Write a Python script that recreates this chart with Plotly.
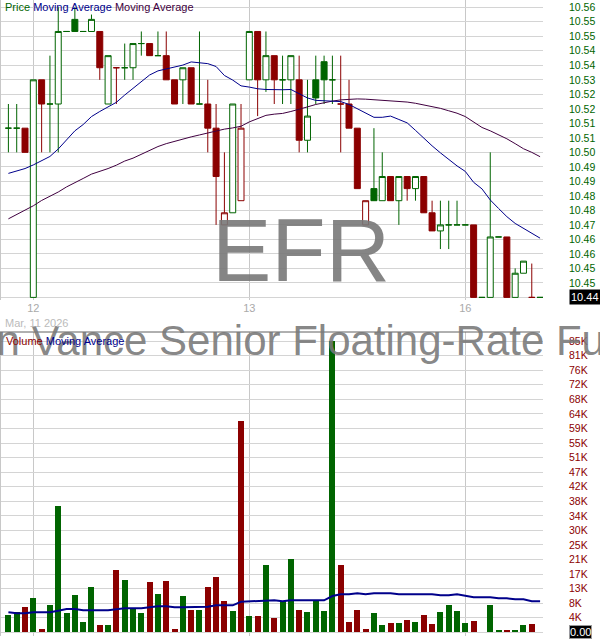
import plotly.graph_objects as go

# ---------------- data ----------------
bar_index = list(range(65))          # 15-minute bars, Mar 11 (last 3) .. Mar 16
day_tick_index = [3, 29, 55]
day_tick_labels = ["12", "13", "16"]

opens = [10.51, 10.51, 10.51, 10.44, 10.53, 10.52, 10.52, 10.55, 10.555, 10.55,
         10.55, 10.55, 10.52, 10.535, 10.535, 10.535, 10.545, 10.545, 10.54, 10.54,
         10.53, 10.53, 10.535, 10.52, 10.52, 10.51, 10.47, 10.475, 10.48, 10.53,
         10.55, 10.53, 10.54, 10.53, 10.53, 10.53, 10.505, 10.53, 10.5375, 10.53,
         10.52, 10.52, 10.51, 10.47, 10.485, 10.48, 10.49, 10.48, 10.49, 10.485,
         10.49, 10.475, 10.4675, 10.47, 10.47, 10.47, 10.47, 10.44, 10.44, 10.465,
         10.465, 10.44, 10.45, 10.44, 10.44]
highs = [10.52, 10.52, 10.51, 10.53, 10.53, 10.54, 10.56, 10.55, 10.56, 10.55,
         10.557, 10.55, 10.54, 10.535, 10.545, 10.545, 10.55, 10.545, 10.55, 10.55,
         10.53, 10.535, 10.535, 10.55, 10.53, 10.52, 10.50, 10.52, 10.52, 10.55,
         10.55, 10.55, 10.54, 10.54, 10.54, 10.54, 10.53, 10.54, 10.54, 10.54,
         10.54, 10.53, 10.51, 10.48, 10.51, 10.50, 10.49, 10.49, 10.49, 10.49,
         10.49, 10.48, 10.48, 10.48, 10.48, 10.47, 10.47, 10.44, 10.50, 10.465,
         10.465, 10.452, 10.455, 10.454, 10.44]
lows = [10.50, 10.50, 10.50, 10.44, 10.50, 10.50, 10.50, 10.55, 10.55, 10.55,
        10.55, 10.53, 10.52, 10.52, 10.53, 10.53, 10.54, 10.54, 10.54, 10.53,
        10.52, 10.52, 10.52, 10.52, 10.50, 10.47, 10.47, 10.475, 10.48, 10.53,
        10.515, 10.525, 10.52, 10.52, 10.52, 10.50, 10.50, 10.52, 10.52, 10.52,
        10.50, 10.51, 10.485, 10.47, 10.48, 10.48, 10.48, 10.47, 10.48, 10.48,
        10.475, 10.4675, 10.46, 10.46, 10.47, 10.47, 10.44, 10.44, 10.44, 10.465,
        10.44, 10.44, 10.45, 10.44, 10.44]
closes = [10.51, 10.51, 10.50, 10.53, 10.52, 10.52, 10.55, 10.55, 10.55, 10.55,
          10.555, 10.535, 10.54, 10.535, 10.535, 10.545, 10.545, 10.54, 10.54, 10.53,
          10.52, 10.535, 10.52, 10.52, 10.51, 10.49, 10.475, 10.52, 10.51, 10.55,
          10.53, 10.54, 10.53, 10.53, 10.54, 10.505, 10.515, 10.5225, 10.53, 10.53,
          10.52, 10.51, 10.485, 10.48, 10.48, 10.49, 10.48, 10.49, 10.485, 10.49,
          10.475, 10.4675, 10.47, 10.47, 10.47, 10.47, 10.44, 10.44, 10.465, 10.465,
          10.44, 10.45, 10.455, 10.44, 10.44]

ma_fast = [10.4913, 10.4923, 10.4933, 10.4948, 10.4967, 10.4983, 10.5014, 10.5051, 10.5089, 10.5115,
           10.5148, 10.5169, 10.5188, 10.5207, 10.5237, 10.5266, 10.5295, 10.5320, 10.5337, 10.5345,
           10.5351, 10.5361, 10.5374, 10.5370, 10.5367, 10.5355, 10.5318, 10.5299, 10.5275, 10.5270,
           10.5263, 10.5260, 10.5258, 10.5259, 10.5260, 10.5242, 10.5225, 10.5215, 10.5213, 10.5213,
           10.5210, 10.5198, 10.5181, 10.5163, 10.5145, 10.5145, 10.5150, 10.5136, 10.5122, 10.5091,
           10.5058, 10.5027, 10.4998, 10.4969, 10.4944, 10.4921, 10.4876, 10.4849, 10.4803, 10.4768,
           10.4734, 10.4706, 10.4686, 10.4668, 10.4645]
ma_slow = [10.4725, 10.4742, 10.4760, 10.4779, 10.4801, 10.4817, 10.4836, 10.4857, 10.4876, 10.4892,
           10.4910, 10.4920, 10.4933, 10.4947, 10.4964, 10.4976, 10.4993, 10.5010, 10.5024, 10.5036,
           10.5046, 10.5055, 10.5064, 10.5072, 10.5080, 10.5089, 10.5096, 10.5101, 10.5108, 10.5126,
           10.5139, 10.5153, 10.5158, 10.5161, 10.5169, 10.5177, 10.5188, 10.5198, 10.5206, 10.5212,
           10.5217, 10.5220, 10.5221, 10.5220, 10.5218, 10.5215, 10.5213, 10.5213, 10.5208, 10.5203,
           10.5197, 10.5190, 10.5182, 10.5172, 10.5162, 10.5148, 10.5126, 10.5103, 10.5089, 10.5074,
           10.5056, 10.5036, 10.5015, 10.5000, 10.4982]

volumes = [5040, 5920, 7380, 10000, 960, 7960, 36800, 5630, 10880, 3000,
           13200, 2130, 2130, 18160, 15250, 6880, 5630, 14670, 11170, 14960,
           960, 10580, 6500, 6500, 13200, 16120, 9130, 6210, 61600, 4750,
           4750, 19620, 4170, 9130, 21370, 6500, 5920, 9130, 6210, 84900,
           19620, 3000, 6500, 960, 5630, 2130, 2710, 2710, 3590, 3000,
           5040, 2420, 6000, 7960, 6210, 2710, 3290, 0, 7960, 670,
           670, 670, 2130, 2420, 0]
vol_ma = [5830, 5540, 5540, 5830, 5830, 5830, 6300, 6790, 6790, 6410,
          6410, 6410, 6410, 6710, 7000, 7000, 7000, 7290, 7580, 7580,
          7290, 7290, 7290, 7500, 7460, 7870, 7870, 7870, 8920, 9040,
          9040, 9330, 9330, 9040, 9330, 9330, 9330, 9330, 9330, 10580,
          11080, 11080, 11370, 11080, 11370, 11370, 11370, 11080, 11080, 11080,
          11080, 11080, 10790, 10790, 11080, 10580, 10200, 10200, 10200, 9910,
          9910, 9620, 9620, 9040, 9040]

price_tick_values = [10.44 + 0.006 * k for k in range(21)]
price_tick_labels = ["", "10.45", "10.45", "10.46", "10.46", "10.47", "10.48", "10.48",
                     "10.49", "10.49", "10.50", "10.51", "10.51", "10.52", "10.52",
                     "10.53", "10.54", "10.54", "10.55", "10.55", "10.56"]
vol_tick_values = [4245 * k for k in range(21)]
vol_tick_labels = ["", "4K", "8K", "13K", "17K", "21K", "25K", "30K", "34K", "38K", "42K",
                   "47K", "51K", "55K", "59K", "64K", "68K", "72K", "76K", "81K", "85K"]
last_price_label = "10.44"
last_volume_label = "0.00"

# ---------------- styles / geometry ----------------
W, H = 600, 640
GREEN = "#006400"
RED = "#8B0000"
BLUE = "#00008B"
PURPLE = "#400040"
FONT = "Liberation Sans, Arial, sans-serif"

plot_w = 543
bar_px = 216 / 26
x0_px = 8.4
xr0 = -x0_px / bar_px
xr1 = xr0 + plot_w / bar_px


def py(p):
    return 1 - p / H


# colour: vs previous close; fill: hollow if close > open
colors = []
for i in range(len(closes)):
    if i == 0 or closes[i] >= closes[i - 1]:
        colors.append(GREEN)
    else:
        colors.append(RED)

fig = go.Figure()

groups = {}
for i in range(len(closes)):
    hollow = closes[i] > opens[i]
    key = (colors[i], hollow)
    groups.setdefault(key, []).append(i)

for (col, hollow), idx in groups.items():
    style = dict(line=dict(color=col, width=1), fillcolor="white" if hollow else col)
    fig.add_trace(go.Candlestick(
        x=[bar_index[i] for i in idx],
        open=[opens[i] for i in idx], high=[highs[i] for i in idx],
        low=[lows[i] for i in idx], close=[closes[i] for i in idx],
        increasing=style, decreasing=style, whiskerwidth=0,
        xaxis="x", yaxis="y", hoverinfo="skip", showlegend=False))

fig.add_trace(go.Scatter(x=bar_index, y=ma_slow, mode="lines",
                         line=dict(color=PURPLE, width=1), xaxis="x", yaxis="y",
                         hoverinfo="skip", showlegend=False))
fig.add_trace(go.Scatter(x=bar_index, y=ma_fast, mode="lines",
                         line=dict(color=BLUE, width=1), xaxis="x", yaxis="y",
                         hoverinfo="skip", showlegend=False))

fig.add_trace(go.Bar(x=bar_index, y=volumes, marker=dict(color=colors, line=dict(width=0)),
                     width=0.72, xaxis="x2", yaxis="y2", hoverinfo="skip", showlegend=False))
fig.add_trace(go.Scatter(x=bar_index, y=vol_ma, mode="lines",
                         line=dict(color=BLUE, width=2), xaxis="x2", yaxis="y2",
                         hoverinfo="skip", showlegend=False))

price_dom = [py(300), 1]
vol_dom = [py(636), py(332)]
vpp = 84900 / 291.2

axis_common = dict(showline=False, zeroline=False, fixedrange=True, automargin=False)
fig.update_layout(
    width=W, height=H, margin=dict(l=0, r=0, t=0, b=0, autoexpand=False),
    paper_bgcolor="white", plot_bgcolor="white",
    font=dict(family=FONT, size=11),
    showlegend=False, boxgap=0.28, boxgroupgap=0, bargap=0,
    xaxis=dict(domain=[0, plot_w / W], range=[xr0, xr1], anchor="y",
               tickvals=day_tick_index, ticktext=day_tick_labels,
               tickfont=dict(color="#aaaaaa", size=11, family=FONT),
               showgrid=True, gridcolor="#c8c8c8", gridwidth=1, ticks="",
               rangeslider=dict(visible=False), **axis_common),
    yaxis=dict(domain=price_dom, range=[10.44 - 2.6 * 0.0004135, 10.56 + 7.3 * 0.0004135],
               side="right", anchor="x", tickvals=price_tick_values, ticktext=price_tick_labels,
               tickfont=dict(color=GREEN, size=10.5, family=FONT), ticks="",
               ticklabelstandoff=25,
               showgrid=True, gridcolor="#d4d4d4", gridwidth=1, **axis_common),
    xaxis2=dict(domain=[0, plot_w / W], range=[xr0, xr1], anchor="y2",
                tickvals=day_tick_index, showticklabels=False,
                showgrid=True, gridcolor="#c8c8c8", gridwidth=1, ticks="", **axis_common),
    yaxis2=dict(domain=vol_dom, range=[-(636 - 632.3) * vpp, (632.3 - 332) * vpp],
                side="right", anchor="x2", tickvals=vol_tick_values, ticktext=vol_tick_labels,
                tickfont=dict(color=RED, size=10.5, family=FONT), ticks="",
                ticklabelstandoff=25,
                showgrid=True, gridcolor="#d4d4d4", gridwidth=1, **axis_common),
)

shapes = [
    dict(type="line", xref="paper", yref="paper", x0=0, x1=540 / W, y0=py(332), y1=py(332),
         line=dict(color="#606060", width=1)),
    dict(type="line", xref="paper", yref="paper", x0=0.5 / W, x1=0.5 / W, y0=price_dom[0], y1=1,
         line=dict(color="#c8c8c8", width=1)),
    dict(type="line", xref="paper", yref="paper", x0=0.5 / W, x1=0.5 / W, y0=vol_dom[0], y1=vol_dom[1],
         line=dict(color="#c8c8c8", width=1)),
]
fig.update_layout(shapes=shapes)

ann = [
    dict(text="EFR", xref="paper", yref="paper", x=301 / W, y=py(250), xanchor="center",
         yanchor="middle", showarrow=False,
         font=dict(family=FONT, size=89, color="rgba(120,120,120,0.9)")),
    dict(text="Eaton Vance Senior Floating-Rate Fund", xref="paper", yref="paper",
         x=281 / W, y=py(340), xanchor="center", yanchor="middle", showarrow=False,
         font=dict(family=FONT, size=42, color="rgba(120,120,120,0.9)")),
    dict(text=(f'<span style="color:{GREEN}">Price</span> '
               f'<span style="color:{BLUE}">Moving Average</span> '
               f'<span style="color:{PURPLE}">Moving Average</span>'),
         xref="paper", yref="paper", x=3 / W, y=py(7), xanchor="left", yanchor="middle",
         showarrow=False, font=dict(family=FONT, size=11)),
    dict(text=(f'<span style="color:{RED}">Volume</span> '
               f'<span style="color:{BLUE}">Moving Average</span>'),
         xref="paper", yref="paper", x=4 / W, y=py(341), xanchor="left", yanchor="middle",
         showarrow=False, font=dict(family=FONT, size=11)),
    dict(text="Mar, 11 2026", xref="paper", yref="paper", x=3 / W, y=py(323),
         xanchor="left", yanchor="middle", showarrow=False,
         font=dict(family=FONT, size=11, color="#bbbbbb")),
    dict(text=last_price_label, xref="paper", yref="y", x=569 / W, y=closes[-1],
         xanchor="left", yanchor="middle", showarrow=False, bgcolor="black",
         borderpad=1, font=dict(family=FONT, size=11, color="white")),
    dict(text=last_volume_label, xref="paper", yref="y2", x=569 / W, y=volumes[-1],
         xanchor="left", yanchor="middle", showarrow=False, bgcolor="black",
         bordercolor="#999999", borderwidth=1, borderpad=0,
         font=dict(family=FONT, size=11, color="white")),
]
fig.update_layout(annotations=ann)

fig.write_html("out.html", config={"displayModeBar": False, "staticPlot": True},
               post_script="document.body.style.margin='0';document.body.style.padding='0';")
